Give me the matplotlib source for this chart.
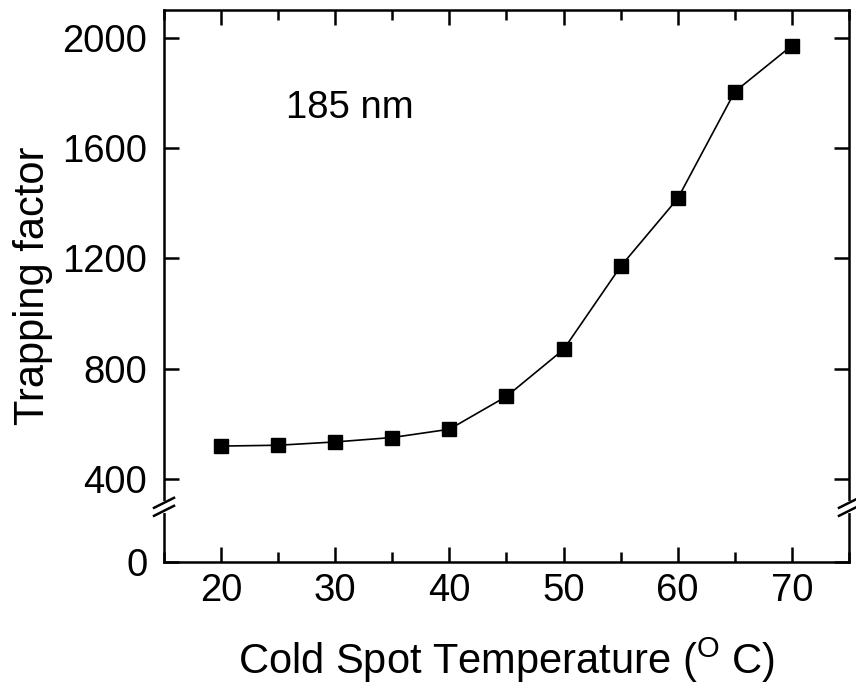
import numpy as np
import matplotlib
matplotlib.use("Agg")
import matplotlib.pyplot as plt
from matplotlib.ticker import MultipleLocator, FixedLocator

plt.rcParams['font.family'] = ['Liberation Sans', 'DejaVu Sans']
plt.rcParams['mathtext.fontset'] = 'custom'
plt.rcParams['mathtext.rm'] = 'Liberation Sans'

# data
temperature = [20, 25, 30, 35, 40, 45, 50, 55, 60, 65, 70]
trapping = [520, 523, 535, 551, 581, 700, 870, 1171, 1417, 1804, 1971]
y_ticks = [0, 400, 800, 1200, 1600, 2000]
label_text = "185 nm"


# broken y axis: 0-200 below the break, 300-2100 above it
def fwd(y):
    y = np.asarray(y, dtype=float)
    return np.where(y < 200, y, np.where(y > 300, y - 99.9, 200 + (y - 200) * 1e-3))


def inv(u):
    u = np.asarray(u, dtype=float)
    return np.where(u < 200, u, np.where(u > 200.1, u + 99.9, 200 + (u - 200) * 1e3))


fig = plt.figure(figsize=(8.56, 6.89), dpi=100)
ax = fig.add_axes([0.1916, 0.1843, 0.8002, 0.8012])
ax.set_yscale('function', functions=(fwd, inv))

ax.plot(temperature, trapping, color='black', lw=1.2, marker='s',
        markersize=10, markerfacecolor='black', markeredgecolor='black')

ax.set_xlim(15, 75)
ax.set_ylim(0, 2100)
ax.xaxis.set_major_locator(MultipleLocator(10))
ax.xaxis.set_minor_locator(MultipleLocator(5))
ax.yaxis.set_major_locator(FixedLocator(y_ticks))
ax.yaxis.set_minor_locator(FixedLocator([]))
ax.set_yticklabels([str(v) for v in y_ticks])

ax.tick_params(which='both', direction='in', top=True, right=True,
               labelsize=27.5, width=1.8)
ax.tick_params(axis='x', pad=8)
ax.tick_params(axis='y', pad=12)
ax.tick_params(which='major', length=11)
ax.tick_params(which='minor', length=7)
for s in ax.spines.values():
    s.set_linewidth(1.8)

ax.set_ylabel("Trapping factor", fontsize=30, labelpad=7)
ax.set_xlabel(r"Cold Spot Temperature ($^\mathregular{O}$ C)", fontsize=30, labelpad=19)

ax.text(31.3, 1745, label_text, fontsize=27.5, ha='center', va='center')

# break marks on both vertical spines
W, H = 686.0, 552.0
yb = 200 / 2000.1
for xs in (0.0, 1.0):
    ax.plot([xs, xs], [yb - 4 / H, yb + 4 / H], transform=ax.transAxes,
            color='white', lw=3, clip_on=False, zorder=5)
    for off in (-4, 4):
        ax.plot([xs - 10 / W, xs + 10 / W],
                [yb + (off - 5) / H, yb + (off + 5) / H],
                transform=ax.transAxes, color='black', lw=1.8,
                clip_on=False, zorder=6)

fig.savefig("out.png", dpi=100)
